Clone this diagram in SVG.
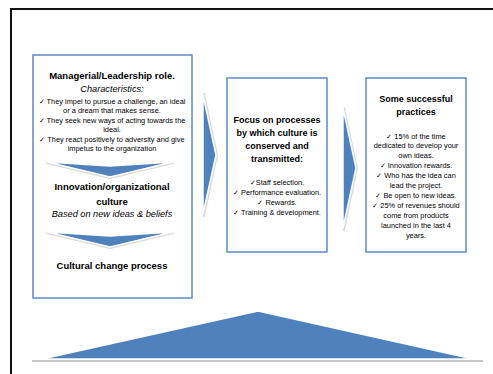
<svg xmlns="http://www.w3.org/2000/svg" width="493" height="374" viewBox="0 0 493 374">
<style>
.frame{fill:none;stroke:#111;stroke-width:2}
.box{fill:#fff;stroke:#5b8cca;stroke-width:1.5}
.arrow{fill:#4f81bd;stroke:#fff;stroke-width:1.5;stroke-linejoin:round}
.shadow{fill:none;stroke:#dadada;stroke-width:2;stroke-linejoin:round}
text{font-family:"Liberation Sans",Arial,sans-serif;fill:#000;text-anchor:middle}
.bl{font-size:9.5px;font-weight:bold}
.bm{font-size:9px;font-weight:bold}
.it{font-size:9.2px;font-style:italic}
.sm{font-size:7.4px}
</style>
<rect class="frame" x="11" y="9" width="500" height="380"/>
<g id="connectors">
<polygon class="shadow" points="204,94 217,155 204,216"/>
<polygon class="arrow" points="203,95 216,155 203,214"/>
<polygon class="shadow" points="344,108 357,168 344,230"/>
<polygon class="arrow" points="343,108 356,168 343,228"/>
</g>
<g id="node-left">
<rect class="box" x="33" y="55" width="159" height="243"/>
<text class="bl" x="112" y="79">Managerial/Leadership role.</text>
<text class="it" x="112" y="92">Characteristics:</text>
<text class="sm" x="112" y="104">✓ They impel to pursue a challenge, an ideal</text>
<text class="sm" x="112" y="113">or a dream that makes sense.</text>
<text class="sm" x="112" y="123">✓ They seek new ways of acting towards the</text>
<text class="sm" x="112" y="132">ideal.</text>
<text class="sm" x="112" y="142">✓ They react positively to adversity and give</text>
<text class="sm" x="112" y="151">impetus to the organization</text>
<polygon class="shadow" points="47,163 110,167 173,163 110,178"/>
<polygon class="arrow" points="47,162 110,166 173,162 110,177"/>
<text class="bl" x="112" y="190">Innovation/organizational</text>
<text class="bl" x="112" y="205">culture</text>
<text class="it" x="112" y="217">Based on new ideas &amp; beliefs</text>
<polygon class="shadow" points="47,233 110,237 173,233 110,248"/>
<polygon class="arrow" points="47,232 110,236 173,232 110,247"/>
<text class="bl" x="112" y="269">Cultural change process</text>
</g>
<g id="node-middle">
<rect class="box" x="227" y="78" width="100" height="174"/>
<text class="bm" x="277" y="123">Focus on processes</text>
<text class="bm" x="277" y="136">by which culture is</text>
<text class="bm" x="277" y="149">conserved and</text>
<text class="bm" x="277" y="162">transmitted:</text>
<text class="sm" x="277" y="185">✓Staff selection.</text>
<text class="sm" x="277" y="195">✓ Performance evaluation.</text>
<text class="sm" x="277" y="205">✓ Rewards.</text>
<text class="sm" x="277" y="215">✓ Training &amp; development.</text>
</g>
<g id="node-right">
<rect class="box" x="366" y="78" width="100" height="174"/>
<text class="bm" x="416" y="102">Some successful</text>
<text class="bm" x="416" y="115">practices</text>
<text class="sm" x="416" y="139">✓ 15% of the time</text>
<text class="sm" x="416" y="148">dedicated to develop your</text>
<text class="sm" x="416" y="158">own ideas.</text>
<text class="sm" x="416" y="168">✓ Innovation rewards.</text>
<text class="sm" x="416" y="178">✓ Who has the idea can</text>
<text class="sm" x="416" y="188">lead the project.</text>
<text class="sm" x="416" y="198">✓  Be open to new ideas.</text>
<text class="sm" x="416" y="208">✓ 25% of revenues should</text>
<text class="sm" x="416" y="218">come from products</text>
<text class="sm" x="416" y="228">launched in the last 4</text>
<text class="sm" x="416" y="238">years.</text>
</g>
<g id="base">
<line x1="32" y1="361" x2="483" y2="361" stroke="#c8c8c8" stroke-width="2"/>
<polygon class="arrow" points="42,359 258,311 473,359"/>
</g>
</svg>
